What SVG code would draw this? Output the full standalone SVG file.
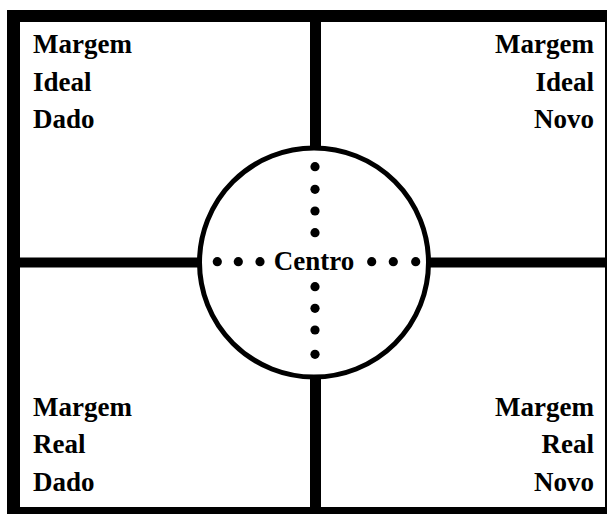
<svg xmlns="http://www.w3.org/2000/svg" width="609" height="514" viewBox="0 0 609 514">
<style>
.t{font-family:"Liberation Serif","Times New Roman",serif;font-weight:bold;font-size:27px;fill:#000}
.r{text-anchor:end}
.dot{fill:#000}
</style>
<rect width="609" height="514" fill="#fff"/>
<g id="frame">
<rect x="7" y="10" width="600" height="12" fill="#000"/>
<rect x="7" y="10" width="13" height="504" fill="#000"/>
<rect x="7" y="507" width="600" height="7" fill="#000"/>
<rect x="605" y="10" width="2" height="504" fill="#000"/>
</g>
<g id="connectors">
<rect x="310" y="22" width="11" height="485" fill="#000"/>
<rect x="20" y="257.5" width="585" height="10" fill="#000"/>
</g>
<g id="centro">
<circle cx="314" cy="262.5" r="114.5" fill="#fff" stroke="#000" stroke-width="5"/>
<g class="dot">
<circle cx="315" cy="166.7" r="4.6"/>
<circle cx="315" cy="189.3" r="4.6"/>
<circle cx="315" cy="211" r="4.6"/>
<circle cx="315" cy="232.7" r="4.6"/>
<circle cx="315" cy="286.7" r="4.6"/>
<circle cx="315" cy="308.3" r="4.6"/>
<circle cx="315" cy="330" r="4.6"/>
<circle cx="315" cy="354.3" r="4.6"/>
<circle cx="217.3" cy="261.7" r="4.6"/>
<circle cx="238.3" cy="261.7" r="4.6"/>
<circle cx="260" cy="261.7" r="4.6"/>
<circle cx="371.7" cy="261.7" r="4.6"/>
<circle cx="393.3" cy="261.7" r="4.6"/>
<circle cx="415.7" cy="261.7" r="4.6"/>
</g>
<text class="t" x="314" y="270" text-anchor="middle">Centro</text>
</g>
<g id="top-left">
<text class="t" x="33" y="53">Margem</text>
<text class="t" x="33" y="91">Ideal</text>
<text class="t" x="33" y="128">Dado</text>
</g>
<g id="top-right">
<text class="t r" x="594" y="53">Margem</text>
<text class="t r" x="594" y="91">Ideal</text>
<text class="t r" x="594" y="128">Novo</text>
</g>
<g id="bottom-left">
<text class="t" x="33" y="416">Margem</text>
<text class="t" x="33" y="453">Real</text>
<text class="t" x="33" y="491">Dado</text>
</g>
<g id="bottom-right">
<text class="t r" x="594" y="416">Margem</text>
<text class="t r" x="594" y="453">Real</text>
<text class="t r" x="594" y="491">Novo</text>
</g>
</svg>
